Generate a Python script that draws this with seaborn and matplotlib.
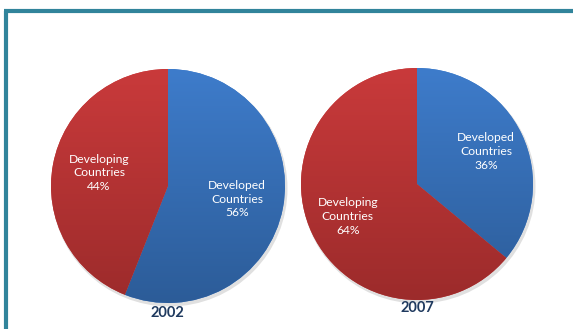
import matplotlib
matplotlib.use("Agg")
import matplotlib.pyplot as plt
import numpy as np
import seaborn as sns
from matplotlib.colors import LinearSegmentedColormap

# Data
years = ["2002", "2007"]
categories = ["Developed\nCountries", "Developing\nCountries"]
shares_2002 = [56, 44]
shares_2007 = [36, 64]

sns.set_theme(style="white")
plt.rcParams["font.family"] = ["Lato", "DejaVu Sans"]

W, H = 573, 329
fig = plt.figure(figsize=(W / 100, H / 100), dpi=100)
ax = fig.add_axes([0, 0, 1, 1])
ax.set_xlim(0, W)
ax.set_ylim(0, H)
ax.set_aspect("equal")
ax.axis("off")

blue_top, blue_bot = "#3e7ccb", "#2c5c98"
red_top, red_bot = "#c93a3b", "#9c2b2b"
grads = [(blue_top, blue_bot), (red_top, red_bot)]

frame_col = "#31849b"
ax.plot([5.5, 5.5], [0, H - 10.5], color=frame_col, lw=3, solid_capstyle="butt")
ax.plot([4, W], [H - 10.5, H - 10.5], color=frame_col, lw=3, solid_capstyle="butt")

pies = [
    (shares_2002, (168, H - 186), 117, years[0], (167, H - 313), 0.6),
    (shares_2007, (417, H - 184), 116, years[1], (417, H - 308), 0.66),
]

for vals, center, r, year, ypos, ldist in pies:
    shadow = plt.Circle((center[0] + 1.5, center[1] - 2.5), r + 1, color="#000000", alpha=0.12, lw=0, zorder=1)
    ax.add_patch(shadow)
    wedges, texts = ax.pie(
        vals, labels=None, startangle=90, counterclock=False,
        center=center, radius=r, colors=[g[0] for g in grads],
        wedgeprops=dict(linewidth=0), frame=False,
    )
    for w, (ct, cb) in zip(wedges, grads):
        w.set_zorder(2)
        cmap = LinearSegmentedColormap.from_list("g", [cb, ct])
        grad = np.linspace(0, 1, 256).reshape(-1, 1)
        im = ax.imshow(grad, cmap=cmap, origin="lower", aspect="auto",
                       extent=[center[0] - r, center[0] + r, center[1] - r, center[1] + r],
                       zorder=3)
        im.set_clip_path(w)
    total = sum(vals)
    start = 90.0
    for i, (v, cat) in enumerate(zip(vals, categories)):
        ang = start - v / total * 360 / 2
        start -= v / total * 360
        rad = np.deg2rad(ang)
        d = ldist * r
        x = center[0] + d * np.cos(rad)
        y = center[1] + d * np.sin(rad)
        ax.text(x, y, f"{cat}\n{v}%", ha="center", va="center", color="white",
                fontsize=8.7, linespacing=1.3, zorder=5)
    ax.text(ypos[0], ypos[1], year, ha="center", va="center", color="#1f3a5f",
            fontsize=10.5, fontweight="bold", zorder=5)

ax.set_xlim(0, W)
ax.set_ylim(0, H)
fig.savefig("out.png", dpi=100)
